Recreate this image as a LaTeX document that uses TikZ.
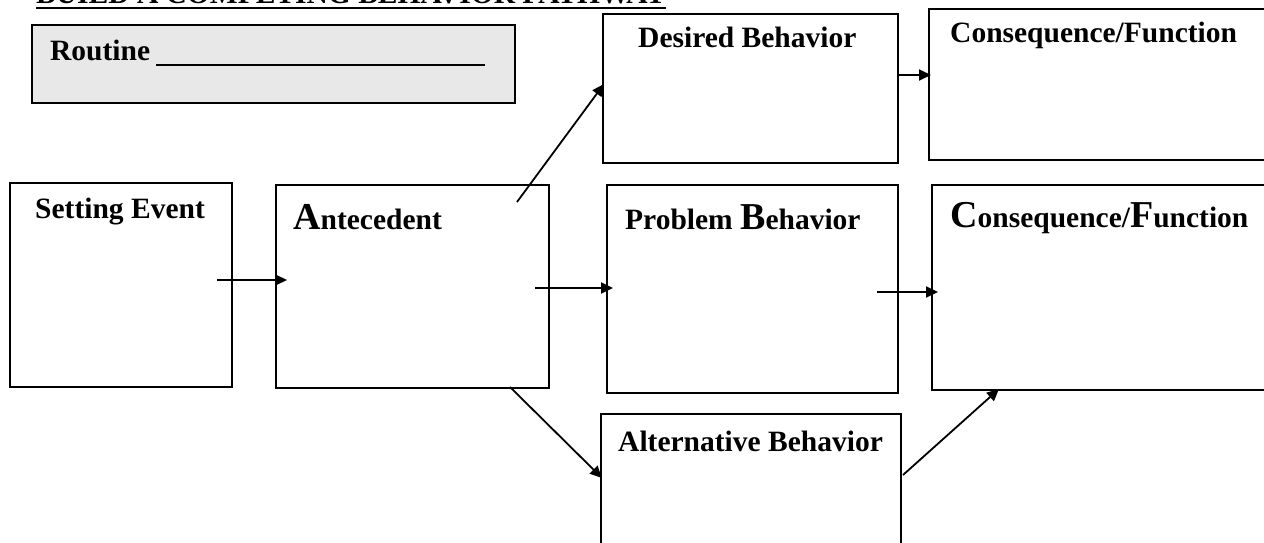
\documentclass[tikz,border=0pt]{standalone}
\usepackage{fontspec}
\setmainfont{Liberation Serif}
\usetikzlibrary{arrows.meta,calc}
\definecolor{panelgray}{RGB}{232,232,232}
% enlarged initial letter used in some headings
\newcommand\largeinitial[1]{{\fontsize{38}{40}\selectfont #1}}
\begin{document}
\begin{tikzpicture}[x=1pt,y=-1pt,
  box/.style={draw, line width=2pt, inner sep=0pt, outer sep=0pt, anchor=north west},
  lbl/.style={inner sep=0pt, anchor=base west, font=\fontsize{29.5}{32}\selectfont\bfseries},
  arr/.style={line width=1.8pt, -{Triangle[length=12pt,width=11pt]}}]
\useasboundingbox (0,0) rectangle (1264,543);
\clip (0,0) rectangle (1264,543);

% title strip, only its lower edge falls inside the page
\node[lbl] (title) at (36,4) {BUILD A COMPETING BEHAVIOR PATHWAY};
\draw[line width=2.4pt] ([yshift=-4pt]title.base west) -- ([yshift=-4pt]title.base east);

% routine panel
\node[box, fill=panelgray, minimum width=483pt, minimum height=78pt] (rt) at (32,25) {};
\node[lbl] (rtl) at (50,61) {Routine};
\draw[line width=1.8pt] (156,65) -- (485,65);

% boxes
\node[box, minimum width=295pt, minimum height=149pt] (de) at (603,14) {};
\node[box, minimum width=350pt, minimum height=151pt] (ct) at (929,9) {};
\node[box, minimum width=222pt, minimum height=204pt] (se) at (10,183) {};
\node[box, minimum width=273pt, minimum height=203pt] (an) at (276,185) {};
\node[box, minimum width=291pt, minimum height=208pt] (pb) at (607,185) {};
\node[box, minimum width=350pt, minimum height=205pt] (cm) at (932,185) {};
\node[box, minimum width=300pt, minimum height=160pt] (al) at (601,414) {};

% headings
\node[lbl] (del) at (638,48) {Desired Behavior};
\node[lbl] (ctl) at (950,43) {Consequence/Function};
\node[lbl] (sel) at (35,218) {Setting Event};
\node[lbl] (anl) at (293,229) {\largeinitial{A}ntecedent};
\node[lbl] (pbl) at (625,229) {Problem \largeinitial{B}ehavior};
\node[lbl] (cml) at (950,227) {\largeinitial{C}onsequence/\largeinitial{F}unction};
\node[lbl] (all) at (618,451) {Alternative Behavior};

% connectors
\draw[arr] ($(se.north east)+(-15,97)$) -- ($(an.north west)+(11,95)$);
\draw[arr] ($(an.north east)+(-32,17)$) -- ($(de.north west)+(1,70)$);
\draw[arr] ($(an.north east)+(-14,103)$) -- ($(pb.north west)+(6,103)$);
\draw[arr] ($(an.south east)+(-39,-1)$) -- ($(al.north west)+(1,64)$);
\draw[arr] ($(de.north east)+(0,61)$) -- ($(ct.north west)+(2,66)$);
\draw[arr] ($(pb.north east)+(-21,107)$) -- ($(cm.north west)+(6,107)$);
\draw[arr] ($(al.north east)+(2,61)$) -- ($(cm.south west)+(67,-1)$);
\end{tikzpicture}
\end{document}
